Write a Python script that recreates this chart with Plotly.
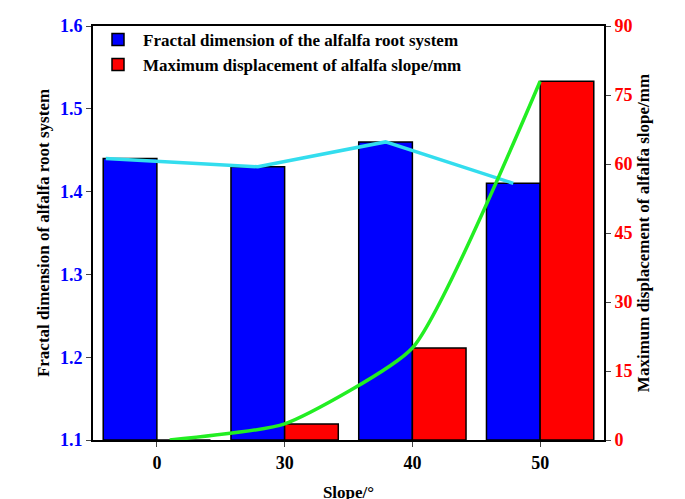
import plotly.graph_objects as go

categories = ["0", "30", "40", "50"]
fractal = [1.44, 1.43, 1.46, 1.41]
displacement = [0, 3.5, 20, 78]

x = list(range(len(categories)))
xb = [i - 0.21 for i in x]
xr = [i + 0.21 for i in x]
F = dict(family="Liberation Serif", size=17, color="black", weight="bold")

fig = go.Figure()
fig.add_trace(go.Bar(x=xb, y=[v - 1.1 for v in fractal], base=1.1, width=0.42,
                     marker=dict(color="#0000ff", line=dict(color="black", width=1.5)),
                     name="Fractal dimension of the alfalfa root system"))
fig.add_trace(go.Bar(x=xr, y=displacement, width=0.42, yaxis="y2",
                     marker=dict(color="#ff0000", line=dict(color="black", width=1.5)),
                     name="Maximum displacement of alfalfa slope/mm"))
fig.add_trace(go.Scatter(x=[x[0] - 0.4] + xb[1:], y=fractal, mode="lines",
                         line=dict(color="#33ddee", width=3.5), showlegend=False))
fig.add_trace(go.Scatter(x=[x[0] + 0.1] + x[1:], y=displacement, yaxis="y2", mode="lines",
                         line=dict(color="#22ee22", width=3.5, shape="spline", smoothing=0.5),
                         showlegend=False))
fig.update_layout(
    width=685, height=499, plot_bgcolor="white", paper_bgcolor="white",
    margin=dict(l=85, r=89, t=8, b=63), barmode="overlay",
    font=dict(family="Liberation Serif", size=15, color="black"),
    xaxis=dict(range=[-0.5, 3.5], tickvals=x, ticktext=categories, showline=True,
               linecolor="black", linewidth=2, mirror=True, ticks="outside",
               title=dict(text="Slope/°", font=F),
               tickfont=dict(family="Liberation Serif", size=18, weight="bold"),
               showgrid=False, zeroline=False),
    yaxis=dict(range=[1.1, 1.6], dtick=0.1, tickformat=".1f", showline=True, linecolor="black",
               linewidth=2, ticks="outside", showgrid=False, zeroline=False,
               tickfont=dict(family="Liberation Serif", size=18, color="#0000ff", weight="bold"),
               title=dict(text="Fractal dimension of alfalfa root system", font=F, standoff=6)),
    yaxis2=dict(range=[0, 90], dtick=15, overlaying="y", side="right", showline=True,
                linecolor="black", linewidth=2, ticks="outside", showgrid=False, zeroline=False,
                tickfont=dict(family="Liberation Serif", size=18, color="#ff0000", weight="bold"),
                title=dict(text="Maximum displacement of alfalfa slope/mm", font=F, standoff=6)),
    legend=dict(x=0.0, y=1.01, xanchor="left", yanchor="top", bgcolor="rgba(0,0,0,0)",
                font=dict(family="Liberation Serif", size=17, color="black", weight="bold"),
                traceorder="normal", itemwidth=40),
)
fig.write_html("out.html")
